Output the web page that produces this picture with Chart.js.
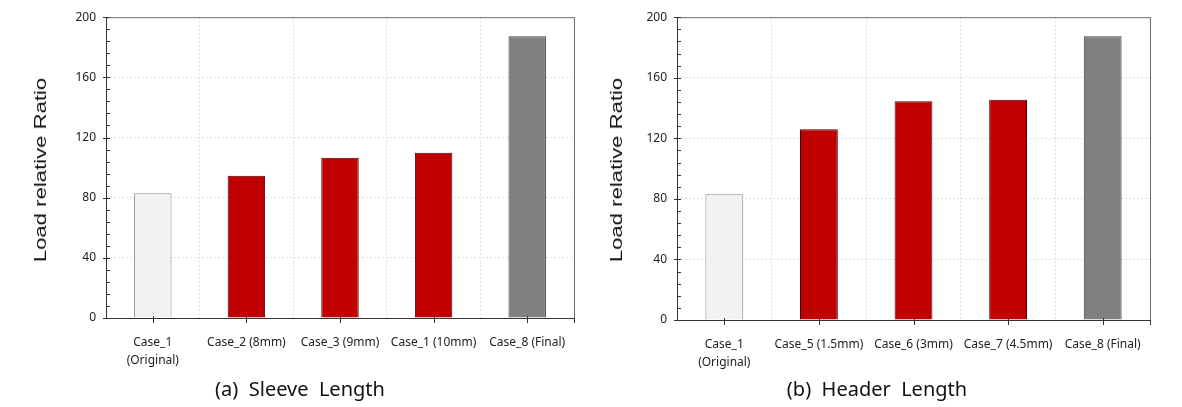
<!DOCTYPE html>
<html>
<head>
<meta charset="utf-8">
<script src="https://cdn.jsdelivr.net/npm/chart.js@4.4.1/dist/chart.umd.min.js"></script>
<style>
  html, body { margin:0; padding:0; background:#fff; width:1182px; height:407px; overflow:hidden; }
  canvas { position:absolute; top:0; }
  .cap { position:absolute; top:375px; line-height:28px; font-family:"Noto Sans",sans-serif; font-size:20px; word-spacing:0px; color:#111; white-space:pre; transform:translateX(-50%); }
  .ytitle { position:absolute; top:170px; line-height:20px; font-family:"Liberation Sans",Arial,sans-serif; font-size:17px; color:#111; white-space:pre; transform:translate(-50%,-50%) rotate(-90deg) scaleX(1.3); }
</style>
</head>
<body>
<canvas id="c1" width="600" height="380" style="left:0px"></canvas>
<canvas id="c2" width="592" height="380" style="left:590px"></canvas>
<div class="ytitle" id="t1" style="left:41px"></div>
<div class="ytitle" id="t2" style="left:617px"></div>
<div class="cap" style="left:300px">(a)  Sleeve  Length</div>
<div class="cap" style="left:877px">(b)  Header  Length</div>
<script>
// ---- data ----
const sleeveLabels = [["Case_1", "(Original)"], "Case_2 (8mm)", "Case_3 (9mm)", "Case_1 (10mm)", "Case_8 (Final)"];
const sleeveValues = [83, 94.5, 106.5, 109.8, 187.4];
const headerLabels = [["Case_1", "(Original)"], "Case_5 (1.5mm)", "Case_6 (3mm)", "Case_7 (4.5mm)", "Case_8 (Final)"];
const headerValues = [83, 126, 144.5, 145.5, 187.4];
const barKinds = ["original", "variant", "variant", "variant", "final"];
const yMin = 0, yMax = 200, yMajorStep = 40, yMinorStep = 8;
const yTitle = "Load relative Ratio";

document.getElementById("t1").textContent = yTitle;
document.getElementById("t2").textContent = yTitle;

// ---- styles ----
const fills = { original: "#f2f2f2", variant: "#c00000", final: "#808080" };
const borders = { original: "#8c8c8c", variant: "#4a0000", final: "#3c3c3c" };
const tickFont = { family: "'Noto Sans', sans-serif", size: 12, lineHeight: 1.55 };
const textColor = "#222";

const framePlugin = {
  id: "frame",
  afterDraw(chart) {
    const { ctx, chartArea: a, scales: { x, y } } = chart;
    ctx.save();
    ctx.lineWidth = 1;
    ctx.strokeStyle = "#6a6a6a";
    ctx.strokeRect(a.left + 0.5, a.top + 0.5, a.right - a.left, a.bottom - a.top);
    ctx.strokeStyle = "#333";
    ctx.beginPath();
    ctx.moveTo(a.left + 0.5, a.top);
    ctx.lineTo(a.left + 0.5, a.bottom + 1);
    ctx.moveTo(a.left - 3, a.bottom + 0.5);
    ctx.lineTo(a.right + 1, a.bottom + 0.5);
    // y ticks
    for (let v = yMin; v <= yMax; v += yMinorStep) {
      const py = Math.round(y.getPixelForValue(v)) + 0.5;
      const major = v % yMajorStep === 0;
      ctx.moveTo(a.left - (major ? 3 : 0), py);
      ctx.lineTo(a.left + 4, py);
    }
    // x ticks
    for (let i = 0; i < chart.data.labels.length; i++) {
      const px = Math.round(x.getPixelForValue(i)) + 0.5;
      ctx.moveTo(px, a.bottom - 2);
      ctx.lineTo(px, a.bottom + 5);
    }
    ctx.moveTo(a.right + 0.5, a.bottom);
    ctx.lineTo(a.right + 0.5, a.bottom + 5);
    ctx.stroke();
    ctx.restore();
  }
};

function makeChart(id, labels, values, opt) {
  return new Chart(document.getElementById(id), {
    type: "bar",
    data: {
      labels: labels,
      datasets: [{
        data: values,
        backgroundColor: barKinds.map(k => fills[k]),
        borderColor: barKinds.map(k => borders[k]),
        borderWidth: 1,
        borderSkipped: "bottom",
        barPercentage: 0.4,
        categoryPercentage: 1.0
      }]
    },
    options: {
      responsive: false,
      animation: false,
      devicePixelRatio: 1,
      layout: { padding: { left: 0, right: opt.padRight, top: 13, bottom: 0 } },
      plugins: { legend: { display: false }, tooltip: { enabled: false } },
      scales: {
        x: {
          grid: { offset: true, drawTicks: false, color: "#dedede" },
          border: { display: false, dash: [2, 2] },
          ticks: { font: tickFont, color: textColor, padding: 15, maxRotation: 0, autoSkip: false },
          afterFit: s => { s.height = opt.xHeight; }
        },
        y: {
          min: yMin, max: yMax,
          ticks: { stepSize: yMajorStep, font: { family: "'Noto Sans', sans-serif", size: 12 }, color: textColor, padding: 10 },
          grid: { drawTicks: false, color: c => (c.tick && c.tick.value > yMin && c.tick.value < yMax) ? "#dedede" : "transparent" },
          border: { display: false, dash: [2, 2] },
          afterFit: s => { s.width = opt.yWidth; }
        }
      }
    },
    plugins: [framePlugin]
  });
}

makeChart("c1", sleeveLabels, sleeveValues, { padRight: 26, yWidth: 106, xHeight: 62 });
makeChart("c2", headerLabels, headerValues, { padRight: 32, yWidth: 87, xHeight: 60 });
</script>
</body>
</html>
